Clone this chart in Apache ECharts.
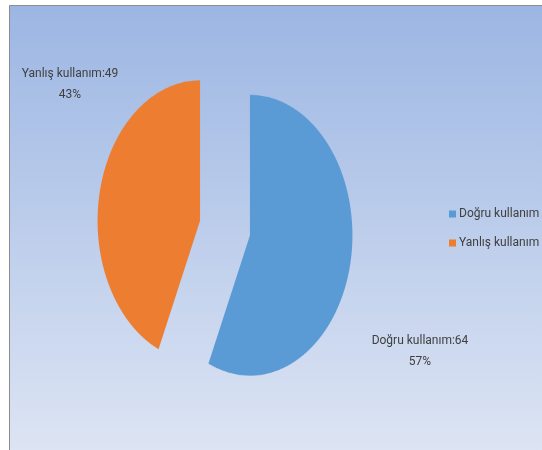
<!DOCTYPE html>
<html>
<head>
<meta charset="utf-8">
<script src="https://cdn.jsdelivr.net/npm/echarts@6/dist/echarts.min.js"></script>
<style>
	html, body { margin: 0; padding: 0; background: #ffffff; }
	#wrap { position: relative; width: 542px; height: 450px; overflow: hidden; }
	#chartBase { position: absolute; left: 0; top: 0; width: 542px; height: 450px; }
	/* the pie is drawn round, then stretched vertically like the original */
	#chartPie { position: absolute; left: 0; top: 0; width: 542px; height: 329px; transform-origin: 0 0; transform: scaleY(1.37); }
</style>
</head>
<body>
<div id="wrap">
	<div id="chartBase"></div>
	<div id="chartPie"></div>
</div>
<script>
	// data
	const categories = ['Doğru kullanım', 'Yanlış kullanım'];
	const values = [64, 49];

	const colors = ['#5b9bd5', '#ed7d31'];
	const fontFamily = "Roboto, 'Noto Sans', sans-serif";
	const fontSize = 12;
	const stretch = 1.37;

	const pieData = categories.map(function(name, i) {
		return { name: name, value: values[i], selected: true };
	});

	// pie layer (stretched)
	const pieChart = echarts.init(document.getElementById('chartPie'), null, { devicePixelRatio: 2 });
	pieChart.setOption({
		backgroundColor: 'rgba(0,0,0,0)',
		animation: false,
		color: colors,
		series: [{
			type: 'pie',
			silent: true,
			center: [225, 228 / stretch],
			radius: 102.5,
			startAngle: 90,
			clockwise: true,
			selectedMode: 'multiple',
			selectedOffset: 25.5,
			label: { show: false },
			labelLine: { show: false },
			emphasis: { disabled: true },
			data: pieData
		}]
	});

	// base layer: frame, legend, labels
	const labelPos = [[420, 351.5], [70, 84]];
	const baseChart = echarts.init(document.getElementById('chartBase'));
	baseChart.setOption({
		backgroundColor: '#ffffff',
		animation: false,
		color: colors,
		graphic: [{
			type: 'rect',
			z: -10,
			shape: { x: 9.5, y: 5.5, width: 600, height: 460 },
			style: {
				fill: new echarts.graphic.LinearGradient(0, 0, 0, 1, [
					{ offset: 0, color: '#9cb6e3' },
					{ offset: 1, color: '#dfe6f4' }
				]),
				stroke: '#8c8c8c',
				lineWidth: 1
			}
		}],
		legend: {
			orient: 'vertical',
			left: 449,
			top: 208,
			padding: 0,
			itemWidth: 7,
			itemHeight: 7,
			itemGap: 17,
			icon: 'rect',
			selectedMode: false,
			textStyle: { fontFamily: fontFamily, fontSize: fontSize, color: '#404040', padding: [0, 0, 0, -2] },
			data: categories.map(function(name, i) {
				return { name: name, itemStyle: { color: colors[i] } };
			})
		},
		series: [{
			type: 'pie',
			silent: true,
			center: [225, 228],
			radius: 100,
			startAngle: 90,
			percentPrecision: 0,
			itemStyle: { color: 'transparent' },
			label: {
				show: true,
				formatter: '{b}:{c}\n{d}%',
				fontFamily: fontFamily,
				fontSize: fontSize,
				lineHeight: 21,
				color: '#404040',
				align: 'center',
				overflow: 'none'
			},
			labelLine: { show: false },
			labelLayout: function(params) {
				const p = labelPos[params.dataIndex];
				return { x: p[0], y: p[1], align: 'center', verticalAlign: 'middle' };
			},
			emphasis: { disabled: true },
			data: categories.map(function(name, i) {
				return { name: name, value: values[i] };
			})
		}]
	});
</script>
</body>
</html>
